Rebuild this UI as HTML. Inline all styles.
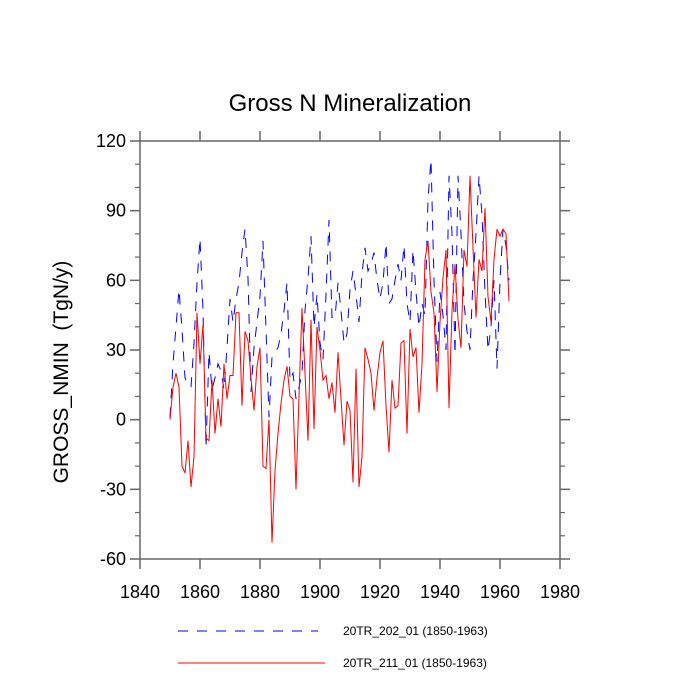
<!DOCTYPE html>
<html><head><meta charset="utf-8"><style>
body{margin:0;background:#fff;}
svg{display:block;font-family:"Liberation Sans",sans-serif;}
</style></head><body>
<svg id="chart" width="700" height="700" viewBox="0 0 700 700">
<text x="350" y="111" font-size="24" text-anchor="middle">Gross N Mineralization</text>
<text transform="translate(68,372) rotate(-90)" font-size="21" text-anchor="middle">GROSS_NMIN &#160;(TgN/y)</text>
<g id="axes"></g>
<g id="series"></g>
<g>
<line x1="178" y1="631" x2="318" y2="631" stroke="#0000ff" stroke-width="1" stroke-dasharray="10,9"/>
<text x="343" y="635" font-size="12">20TR_202_01 (1850-1963)</text>
<line x1="178" y1="663" x2="325" y2="663" stroke="#ff0000" stroke-width="1"/>
<text x="343" y="667" font-size="12">20TR_211_01 (1850-1963)</text>
</g>
</svg>
<script>
const startYear = 1850;
const seriesBlue = [1,24,40,56,39,18,15,14,33,59,78,47,-12,29,13,18,24,21,13,31,52,42,52,59,72,82,61,12,31,42,53,77,39,1,27,29,31,37,47,59,17,20,9,14,20,47,61,79,40,54,33,26,54,86,44,44,59,47,33,37,56,64,54,42,63,74,64,67,72,60,52,59,76,50,52,60,67,60,75,50,42,73,55,40,50,45,95,112,60,25,55,45,30,105,80,28,105,80,50,38,30,60,80,105,88,55,30,40,60,22,60,82,75,60];
const seriesRed = [0,14,20,14,-20,-23,-9,-29,-16,46,24,41,-8,-9,17,-6,9,-3,24,9,19,19,46,46,6,38,34,18,4,23,31,-20,-21,0,-53,-22,-6,7,17,23,10,9,-30,10,48,20,-9,43,-4,40,30,17,19,9,16,3,29,9,-11,8,4,-27,22,-29,-16,31,26,20,4,18,29,34,6,-14,17,5,6,33,34,-6,39,27,31,3,24,69,77,55,46,12,42,61,73,5,47,67,43,31,73,66,105,74,44,69,64,91,53,42,69,82,79,82,80,51];
const xTicks = [1840,1860,1880,1900,1920,1940,1960,1980];
const yTicks = [-60,-30,0,30,60,90,120];
const yMinor = [-50,-40,-20,-10,10,20,40,50,70,80,100,110];

const L=140,R=560,T=141,B=559;
const xs=y=>L+(y-1840)/140*(R-L);
const ys=v=>B-(v+60)/180*(B-T);
const NS='http://www.w3.org/2000/svg';
const axes=document.getElementById('axes');
function mk(tag,attrs,parent){const e=document.createElementNS(NS,tag);for(const k in attrs)e.setAttribute(k,attrs[k]);parent.appendChild(e);return e;}
const frame=mk('rect',{x:L,y:T,width:R-L,height:B-T,fill:'none',stroke:'#666','stroke-width':1.5},axes);


xTicks.forEach(t=>{
  const x=xs(t);
  const a=mk('line',{x1:x,y1:B,x2:x,y2:B+10,stroke:'#666','stroke-width':1.5},axes);
  
  
  const b=mk('line',{x1:x,y1:T,x2:x,y2:T-10,stroke:'#666','stroke-width':1.5},axes);
  
  
  const tx=mk('text',{x:x,y:B+39,'font-size':18,'text-anchor':'middle'},axes);
  tx.textContent=t;
  
  
});
yTicks.forEach(t=>{
  const y=ys(t);
  const a=mk('line',{x1:L,y1:y,x2:L-10,y2:y,stroke:'#666','stroke-width':1.5},axes);
  
  
  const b=mk('line',{x1:R,y1:y,x2:R+10,y2:y,stroke:'#666','stroke-width':1.5},axes);
  
  
  const tx=mk('text',{x:L-14,y:y+6,'font-size':18,'text-anchor':'end'},axes);
  tx.textContent=t;
  
  
});
yMinor.forEach(t=>{
  const y=ys(t);
  const a=mk('line',{x1:L,y1:y,x2:L-5,y2:y,stroke:'#666','stroke-width':1.2},axes);
  
  
  const b=mk('line',{x1:R,y1:y,x2:R+5,y2:y,stroke:'#666','stroke-width':1.2},axes);
  
  
});
const sg=document.getElementById('series');
function pts(arr){return arr.map((v,i)=>xs(startYear+i).toFixed(1)+','+ys(v).toFixed(1)).join(' ');}
const pb=mk('polyline',{points:pts(seriesBlue),fill:'none',stroke:'#0000ff','stroke-width':1,'stroke-dasharray':'10,9'},sg);


const pr=mk('polyline',{points:pts(seriesRed),fill:'none',stroke:'#ff0000','stroke-width':1},sg);


</script>
</body></html>
